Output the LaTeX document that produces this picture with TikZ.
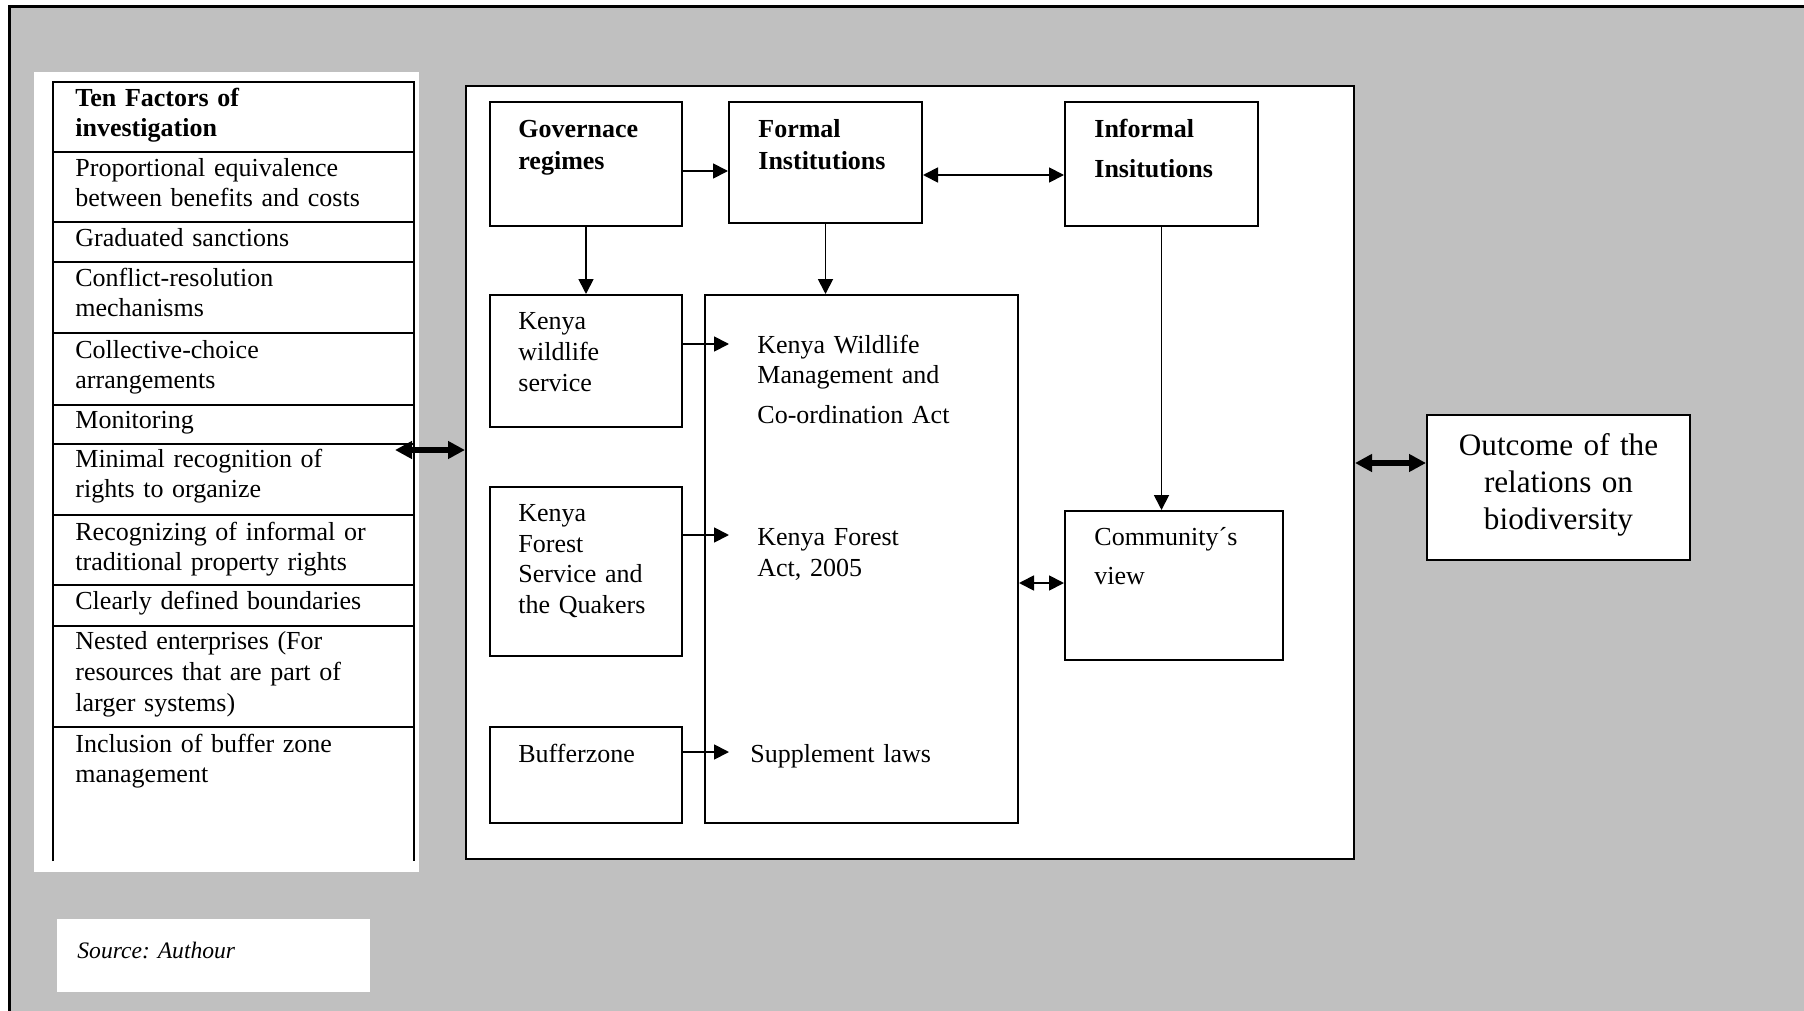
\documentclass[tikz,border=0pt]{standalone}
\usepackage{fontspec}
\setmainfont{Liberation Serif}
\usetikzlibrary{arrows.meta,fit}
\definecolor{panelgray}{RGB}{192,192,192}
\frenchspacing
\begin{document}
\begin{tikzpicture}[x=0.5pt,y=-0.5pt,
  frame/.style={draw=black,line width=1pt,fill=white,inner sep=0pt},
  body/.style={anchor=base west,inner sep=0pt,align=left,text width=180pt,
    font=\fontsize{13}{15}\selectfont},
  head/.style={body,font=\fontsize{13}{16}\selectfont\bfseries},
  oneway/.style={line width=0.9pt,-{Triangle[length=7.5pt,width=7.5pt]}},
  twoway/.style={line width=0.9pt,{Triangle[length=7.5pt,width=7.5pt]}-{Triangle[length=7.5pt,width=7.5pt]}},
  bigway/.style={line width=3pt,{Triangle[length=8.5pt,width=8.5pt]}-{Triangle[length=8.5pt,width=8.5pt]}},
]
\useasboundingbox (0,0) rectangle (1804,1011);
% page, grey panel and its frame
\fill[white] (0,0) rectangle (1804,1011);
\fill[panelgray] (9,7) rectangle (1804,1011);
\draw[line width=1.5pt] (1804,7) -- (9,7) -- (9,1011);

% ---------------- table of factors ----------------
\fill[white] (34,72) rectangle (419,872);
\node[inner sep=0pt,fit={(53,82) (414,861)}] (factors) {};
\draw[line width=1pt] (53,861) -- (53,82) -- (414,82) -- (414,861);
\foreach \yy in {152,222,262,333,405,444,515,585,626,727}
  \draw[line width=1pt] (53,\yy) -- (414,\yy);

\node[head,font=\fontsize{13}{15}\selectfont\bfseries] (f0) at (75,107) {Ten Factors of\\investigation};
\node[body] (f1) at (75,176.5) {Proportional equivalence\\between benefits and costs};
\node[body] (f2) at (75,246.5) {Graduated sanctions};
\node[body] (f3) at (75,286.5) {Conflict-resolution\\mechanisms};
\node[body] (f4) at (75,358) {Collective-choice\\arrangements};
\node[body] (f5) at (75,428) {Monitoring};
\node[body] (f6) at (75,467) {Minimal recognition of\\rights to organize};
\node[body] (f7) at (75,540) {Recognizing of informal or\\traditional property rights};
\node[body] (f8) at (75,609) {Clearly defined boundaries};
\node[body,font=\fontsize{13}{15.5}\selectfont] (f9) at (75,649) {Nested enterprises (For\\resources that are part of\\larger systems)};
\node[body] (f10) at (75,752) {Inclusion of buffer zone\\management};

% ---------------- central framework ----------------
\node[frame,fit={(466,86) (1354,859)}] (mid) {};
\node[frame,fit={(490,102) (682,226)}] (gov) {};
\node[frame,fit={(729,102) (922,223)}] (formal) {};
\node[frame,fit={(1065,102) (1258,226)}] (informal) {};
\node[frame,fit={(490,295) (682,427)}] (kws) {};
\node[frame,fit={(490,487) (682,656)}] (kfs) {};
\node[frame,fit={(490,727) (682,823)}] (buf) {};
\node[frame,fit={(705,295) (1018,823)}] (acts) {};
\node[frame,fit={(1065,511) (1283,660)}] (com) {};

\node[head] (govtxt) at (518,138) {Governace\\regimes};
\node[head] (formaltxt) at (758,138) {Formal\\Institutions};
\node[head,font=\fontsize{13}{20}\selectfont\bfseries] (informaltxt) at (1094,137.5) {Informal\\Insitutions};
\node[body,font=\fontsize{13}{15.7}\selectfont] (kwstxt) at (518,329) {Kenya\\wildlife\\service};
\node[body] (kwmtxt) at (757,353) {Kenya Wildlife\\Management and\\[5pt]Co-ordination Act};
\node[body,font=\fontsize{13}{15.3}\selectfont] (kfstxt) at (518,521.5) {Kenya\\Forest\\Service and\\the Quakers};
\node[body,font=\fontsize{13}{15.5}\selectfont] (kfatxt) at (757,545) {Kenya Forest\\Act, 2005};
\node[body] (buftxt) at (518,762) {Bufferzone};
\node[body] (suptxt) at (750,762) {Supplement laws};
\node[body,font=\fontsize{13}{19.5}\selectfont] (comtxt) at (1094,545.5) {Community´s\\view};

% ---------------- outcome ----------------
\node[frame,fit={(1427,415) (1690,560)}] (outcome) {};
\node[anchor=base,inner sep=0pt,align=center,text width=125pt,
  font=\fontsize{15.6}{18.5}\selectfont] (outtxt) at (1558.5,455) {Outcome of the\\relations on\\biodiversity};

% ---------------- source note ----------------
\node[fill=white,inner sep=0pt,fit={(57,919) (370,992)}] (srcbox) {};
\node[body,font=\fontsize{11.8}{14}\selectfont\itshape] (srctxt) at (77,958) {Source: Authour};

% ---------------- connectors ----------------
\coordinate (lvGF) at (0,171);
\coordinate (lvFI) at (0,175);
\coordinate (lvAC) at (0,583);
\coordinate (lvMO) at (0,463);
\coordinate (kwmIn) at (729,344);
\coordinate (kfaIn) at (729,535);
\coordinate (supIn) at (729,752);
\coordinate (facEnd) at (395,450);

\draw[oneway] (gov.east |- lvGF) -- (formal.west |- lvGF);
\draw[twoway] (formal.east |- lvFI) -- (informal.west |- lvFI);
\draw[oneway] (gov.south) -- (kws.north);
\draw[oneway] (formal.south) -- (formal.south |- acts.north);
\draw[oneway] (informal.south) -- (informal.south |- com.north);
\draw[oneway] (kws.east |- kwmIn) -- (kwmIn);
\draw[oneway] (kfs.east |- kfaIn) -- (kfaIn);
\draw[oneway] (buf.east |- supIn) -- (supIn);
\draw[twoway] (acts.east |- lvAC) -- (com.west |- lvAC);
\draw[bigway] (facEnd) -- (mid.west |- facEnd);
\draw[bigway] (mid.east |- lvMO) -- (outcome.west |- lvMO);
\end{tikzpicture}
\end{document}
